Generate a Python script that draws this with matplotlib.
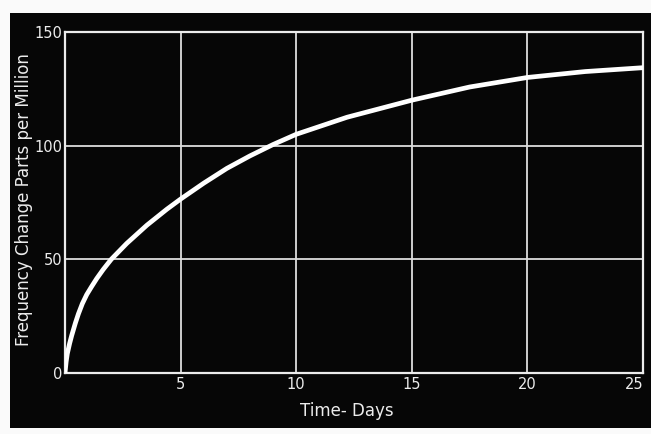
import matplotlib
matplotlib.use("Agg")
import matplotlib.pyplot as plt

# values
days = [0, 0.05, 0.1, 0.2, 0.29, 0.45, 0.58, 0.75, 0.94, 1.15, 1.37, 1.65, 2.0, 2.67,
        3.54, 4.4, 5, 6, 7, 8, 9, 10, 12.2, 15, 17.5, 20, 22.5, 25]
freq_change = [0, 5, 8.5, 13, 16.5, 22, 26, 30.5, 34.5, 38, 41.5, 45.5, 50, 57,
               65, 72, 76.5, 83.5, 90, 95.5, 100.5, 105, 112.5, 120, 125.8, 130, 132.6, 134.3]

x_ticks = [5, 10, 15, 20, 25]
y_ticks = [0, 50, 100, 150]

W, H = 651, 434
fg = "#ececec"
bg = "#060606"

fig = plt.figure(figsize=(W / 100, H / 100), dpi=100, facecolor="#fafafa")

# black card of the scan
back = fig.add_axes([10 / W, 6 / H, 641 / W, 415 / H])
back.set_facecolor(bg)
back.set_xticks([])
back.set_yticks([])
for s in back.spines.values():
    s.set_visible(False)

ax = fig.add_axes([65 / W, 1 - 373 / H, (643 - 65) / W, (373 - 32) / H])
ax.set_facecolor(bg)

ax.plot(days, freq_change, color="white", lw=3.4, solid_capstyle="round",
        solid_joinstyle="round", zorder=3)

ax.set_xlim(0, 25)
ax.set_ylim(0, 150)
ax.set_xticks(x_ticks)
ax.set_yticks(y_ticks)
ax.tick_params(length=0, colors=fg, labelsize=10.5, pad=3)
ax.tick_params(axis="y", pad=2)
ax.get_xticklabels()[-1].set_horizontalalignment("right")
for s in ax.spines.values():
    s.set_color(fg)
    s.set_linewidth(1.6)
ax.grid(True, color="#dcdcdc", lw=1.3)

ax.set_xlabel("Time- Days", color=fg, fontsize=12)
ax.set_ylabel("Frequency Change Parts per Million", color=fg, fontsize=12)
ax.xaxis.set_label_coords(0.488, -0.085)
ax.yaxis.set_label_coords(-0.056, 0.51)

fig.savefig("out.png", dpi=100, facecolor=fig.get_facecolor())
